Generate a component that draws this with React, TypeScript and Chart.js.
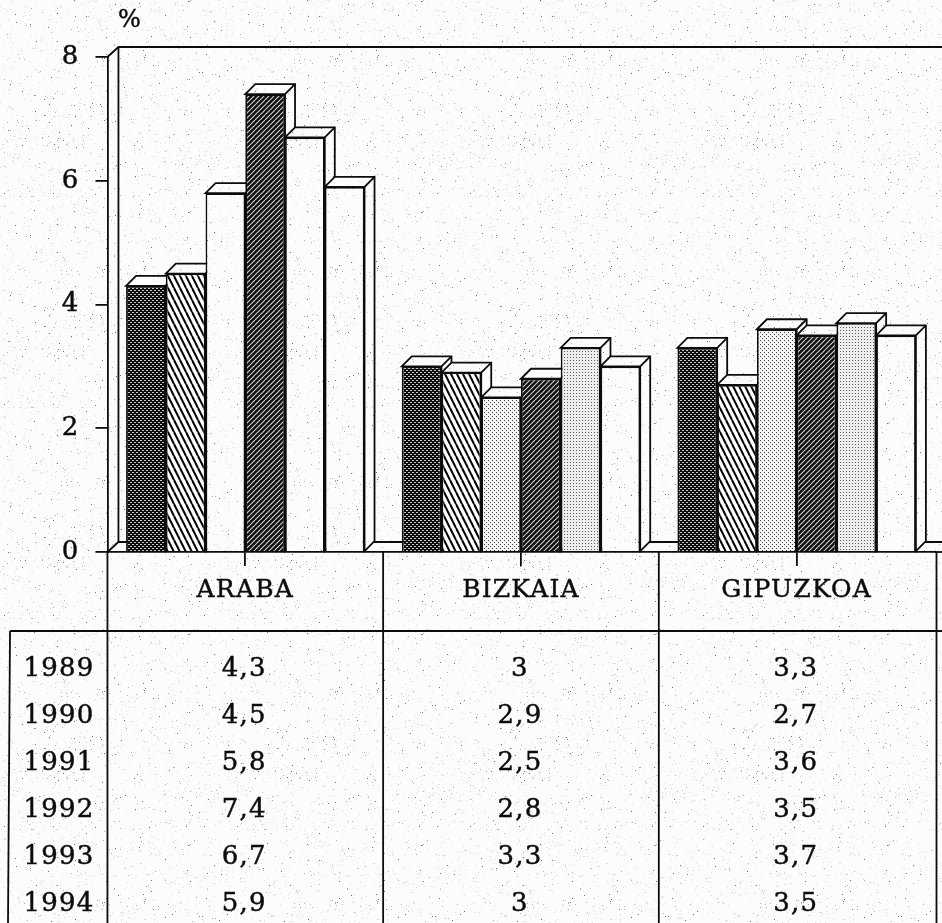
import React, { useEffect, useRef } from "react";
import { Chart, registerables } from "chart.js";

Chart.register(...registerables);

const regions = ["ARABA", "BIZKAIA", "GIPUZKOA"];
const years = ["1989", "1990", "1991", "1992", "1993", "1994"];
const v1989 = [4.3, 3, 3.3];
const v1990 = [4.5, 2.9, 2.7];
const v1991 = [5.8, 2.5, 3.6];
const v1992 = [7.4, 2.8, 3.5];
const v1993 = [6.7, 3.3, 3.7];
const v1994 = [5.9, 3, 3.5];
const seriesValues = [v1989, v1990, v1991, v1992, v1993, v1994];
const yTicks = [0, 2, 4, 6, 8];
const unit = "%";

const INK = "#0c0c0c";
const FONT = '"DejaVu Serif", serif';

function tile(w: number, h: number, draw: (c: CanvasRenderingContext2D) => void) {
  const cv = document.createElement("canvas");
  cv.width = w;
  cv.height = h;
  const c = cv.getContext("2d")!;
  draw(c);
  return cv;
}

function makePatterns(ctx: CanvasRenderingContext2D) {
  const paper = tile(233, 211, (c) => {
    c.fillStyle = "#fcfcfc";
    c.fillRect(0, 0, 233, 211);
    let s = 12345;
    for (let i = 0; i < 1300; i++) {
      s = (s * 1103515245 + 12345) & 0x7fffffff;
      const x = (s >> 8) % 233;
      s = (s * 1103515245 + 12345) & 0x7fffffff;
      const y = (s >> 8) % 211;
      s = (s * 1103515245 + 12345) & 0x7fffffff;
      const t = (s >> 8) % 10;
      c.fillStyle = t < 7 ? "#dcdcdc" : t < 9 ? "#b0b0b0" : "#707070";
      c.fillRect(x, y, 1, 1);
    }
  });
  const dark = tile(4, 4, (c) => {
    c.fillStyle = "#0c0c0c";
    c.fillRect(0, 0, 4, 4);
    c.fillStyle = "#c8c8c8";
    c.fillRect(0, 0, 2, 1);
    c.fillRect(2, 2, 2, 1);
  });
  const backHatch = tile(6, 12, (c) => {
    c.fillStyle = "#ffffff";
    c.fillRect(0, 0, 6, 12);
    c.strokeStyle = "#000000";
    c.lineWidth = 2;
    for (let k = -6; k <= 6; k += 6) {
      c.beginPath();
      c.moveTo(k, 0);
      c.lineTo(k + 6, 12);
      c.stroke();
    }
  });
  const forwardHatch = tile(5, 5, (c) => {
    c.fillStyle = "#0e0e0e";
    c.fillRect(0, 0, 5, 5);
    c.strokeStyle = "#d8d8d8";
    c.lineWidth = 1.1;
    for (let k = -5; k <= 5; k += 5) {
      c.beginPath();
      c.moveTo(k, 5);
      c.lineTo(k + 5, 0);
      c.stroke();
    }
  });
  const lightDots = tile(4, 4, (c) => {
    c.fillStyle = "#f4f4f4";
    c.fillRect(0, 0, 4, 4);
    c.fillStyle = "#3c3c3c";
    c.fillRect(0, 0, 1, 1);
    c.fillRect(2, 2, 1, 1);
  });
  const fineDots = tile(3, 3, (c) => {
    c.fillStyle = "#eeeeee";
    c.fillRect(0, 0, 3, 3);
    c.fillStyle = "#5a5a5a";
    c.fillRect(0, 0, 1, 1);
  });
  const p = (cv: HTMLCanvasElement) => ctx.createPattern(cv, "repeat")!;
  return {
    paper: p(paper),
    dark: p(dark),
    backHatch: p(backHatch),
    forwardHatch: p(forwardHatch),
    lightDots: p(lightDots),
    fineDots: p(fineDots),
  };
}

const fmt = (v: number) => String(v).replace(".", ",");

export default function App() {
  const ref = useRef<HTMLCanvasElement>(null);

  useEffect(() => {
    const canvas = ref.current!;
    const ctx = canvas.getContext("2d")!;
    const pt = makePatterns(ctx);
    const DEPTH = 10;
    const LW = 1.8;
    const TEXT_STROKE = 0.45;

    const fills = [
      [pt.dark, pt.dark, pt.dark],
      [pt.backHatch, pt.backHatch, pt.backHatch],
      [pt.paper, pt.lightDots, pt.lightDots],
      [pt.forwardHatch, pt.forwardHatch, pt.forwardHatch],
      [pt.paper, pt.fineDots, pt.fineDots],
      [pt.paper, pt.paper, pt.paper],
    ];

    const line = (c: CanvasRenderingContext2D, pts: number[][]) => {
      c.beginPath();
      pts.forEach((q, i) => (i ? c.lineTo(q[0], q[1]) : c.moveTo(q[0], q[1])));
      c.stroke();
    };

    const drawDepth = (c: CanvasRenderingContext2D, meta: any) => {
      c.save();
      c.strokeStyle = INK;
      c.lineWidth = LW;
      c.fillStyle = pt.paper;
      meta.data.forEach((bar: any) => {
        const l = bar.x - bar.width / 2;
        const r = bar.x + bar.width / 2;
        const t = bar.y;
        const b = bar.base;
        c.beginPath();
        c.moveTo(l, t);
        c.lineTo(l + DEPTH, t - DEPTH);
        c.lineTo(r + DEPTH, t - DEPTH);
        c.lineTo(r + DEPTH, b - DEPTH);
        c.lineTo(r, b);
        c.lineTo(r, t);
        c.closePath();
        c.fill();
        c.stroke();
        line(c, [[r, t], [r + DEPTH, t - DEPTH]]);
      });
      c.restore();
    };

    const frame3d = {
      id: "frame3d",
      beforeDraw(chart: any) {
        const c = chart.ctx as any;
        c.letterSpacing = "1.2px";
        c.save();
        c.fillStyle = pt.paper;
        c.fillRect(0, 0, chart.width, chart.height);
        c.restore();
      },
      beforeDatasetsDraw(chart: any) {
        const c = chart.ctx as CanvasRenderingContext2D;
        const { left, top, bottom } = chart.chartArea;
        c.save();
        c.strokeStyle = INK;
        c.lineWidth = LW;
        line(c, [[left, top], [left + DEPTH + 1, top - DEPTH], [chart.width, top - DEPTH]]);
        line(c, [[left + DEPTH + 1, top - DEPTH], [left + DEPTH + 1, bottom - DEPTH]]);
        line(c, [[left, bottom], [left + DEPTH + 1, bottom - DEPTH], [chart.width, bottom - DEPTH]]);
        c.restore();
        // later years sit in front of the earlier years' side faces
        chart.getSortedVisibleDatasetMetas().forEach((meta: any) => {
          drawDepth(c, meta);
          meta.controller.draw();
        });
        return false;
      },
      afterDraw(chart: any) {
        const c = chart.ctx as CanvasRenderingContext2D;
        const x = chart.scales.x;
        const { left, right, bottom } = chart.chartArea;
        const half = (x.getPixelForValue(1) - x.getPixelForValue(0)) / 2;
        const cols = regions.map((_, i) => x.getPixelForValue(i));
        const headerBottom = 631;
        const tableLeft = 10;
        c.save();
        c.strokeStyle = INK;
        c.lineWidth = LW;
        line(c, [[right, bottom], [chart.width, bottom]]);
        line(c, [[left, bottom], [left, chart.height]]);
        cols.forEach((cx: number, i: number) => {
          const xr = i === cols.length - 1 ? cx + half + 2 : cx + half;
          line(c, [[xr, bottom], [xr, chart.height]]);
        });
        line(c, [[tableLeft, headerBottom], [chart.width, headerBottom]]);
        line(c, [[tableLeft, headerBottom], [tableLeft - 2, chart.height]]);
        c.fillStyle = INK;
        c.textBaseline = "middle";
        c.textAlign = "center";
        c.font = `26px ${FONT}`;
        c.lineWidth = TEXT_STROKE;
        const put = (text: string, px: number, py: number) => {
          c.fillText(text, px, py);
          c.strokeText(text, px, py);
        };
        const rowTop = 669;
        const rowStep = 47;
        years.forEach((yr, r) => {
          const y = rowTop + rowStep * r;
          put(yr, 59, y);
          cols.forEach((cx: number, k: number) => {
            put(fmt(seriesValues[r][k]), cx - 1, y);
          });
        });
        c.font = `24px ${FONT}`;
        put(unit, 130, 21);
        c.restore();
      },
    };

    const chart = new Chart(canvas, {
      type: "bar",
      data: {
        labels: regions,
        datasets: years.map((yr, i) => ({
          label: yr,
          data: seriesValues[i],
          backgroundColor: fills[i],
          borderColor: INK,
          borderWidth: LW,
        })),
      },
      options: {
        responsive: false,
        animation: false,
        layout: { padding: { top: 57, right: 7.5, left: 0, bottom: 0 } },
        plugins: { legend: { display: false }, tooltip: { enabled: false }, title: { display: false } },
        datasets: { bar: { categoryPercentage: 0.865, barPercentage: 1 } },
        scales: {
          x: {
            afterFit: (s: any) => {
              s.height = 371;
            },
            grid: { offset: false, drawOnChartArea: false, color: INK, tickLength: 14, lineWidth: LW },
            border: { color: INK, width: LW },
            ticks: {
              color: INK,
              font: { family: FONT, size: 25 },
              padding: 9,
              maxRotation: 0,
              autoSkip: false,
              textStrokeColor: INK,
              textStrokeWidth: TEXT_STROKE,
            },
          },
          y: {
            min: 0,
            max: 8,
            afterFit: (s: any) => {
              s.width = 107.45;
            },
            afterBuildTicks: (s: any) => {
              s.ticks = yTicks.map((value) => ({ value }));
            },
            grid: { drawOnChartArea: false, color: INK, tickLength: 12, lineWidth: LW },
            border: { color: INK, width: LW },
            ticks: {
              color: INK,
              font: { family: FONT, size: 26 },
              padding: 16,
              textStrokeColor: INK,
              textStrokeWidth: TEXT_STROKE,
            },
          },
        },
      } as any,
      plugins: [frame3d],
    });
    return () => chart.destroy();
  }, []);

  return (
    <canvas
      ref={ref}
      width={942}
      height={923}
      style={{ position: "absolute", left: 0, top: 0, display: "block", width: 942, height: 923 }}
    />
  );
}
